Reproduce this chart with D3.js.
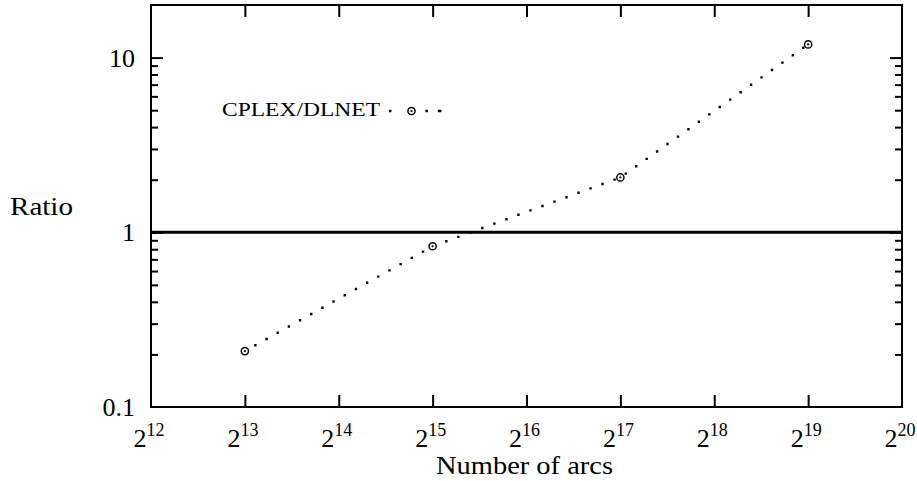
<!DOCTYPE html>
<html>
<head>
<meta charset="utf-8">
<script src="https://cdn.jsdelivr.net/npm/d3@7"></script>
<style>
  body { margin: 0; background: #fff; }
  text { font-family: "Liberation Serif", "Times New Roman", serif; fill: #000; }
</style>
</head>
<body>
<script>
// data
var exponents = [13, 15, 17, 19];
var ratios = [0.209, 0.832, 2.06, 11.9];
var xTickExps = [12, 13, 14, 15, 16, 17, 18, 19, 20];
var yTickValues = [0.1, 1, 10];
var yTickLabels = ["0.1", "1", "10"];
var seriesName = "CPLEX/DLNET";

var svgWidth = 917;
var svgHeight = 481;

var margin = { top: 5, right: 15, bottom: 74, left: 151 };
var width = svgWidth - margin.left - margin.right;
var height = svgHeight - margin.top - margin.bottom;

var svg = d3.select("body")
  .append("svg")
  .attr("width", svgWidth)
  .attr("height", svgHeight);

var chartGroup = svg.append("g")
  .attr("transform", `translate(${margin.left}, ${margin.top})`);

// x is log2 of number of arcs, y is log10
var xScale = d3.scaleLog().base(2)
  .domain([Math.pow(2, 12), Math.pow(2, 20)])
  .range([0, width]);

var yScale = d3.scaleLog()
  .domain([0.1, 20])
  .range([height, 0]);

// minor ticks on y
var minorY = [];
[0.1, 1, 10].forEach(function(d) {
  for (var k = 2; k <= 9; k++) {
    var v = d * k;
    if (v < 20) minorY.push(v);
  }
});

// ticks: bottom & top
var xMajor = xTickExps.slice(1, -1).map(e => Math.pow(2, e));
chartGroup.append("g")
  .attr("transform", `translate(0, ${height})`)
  .call(d3.axisBottom(xScale).tickValues(xMajor).tickSize(-12).tickFormat(""))
  .call(g => g.select(".domain").remove());
chartGroup.append("g")
  .call(d3.axisTop(xScale).tickValues(xMajor).tickSize(-12).tickFormat(""))
  .call(g => g.select(".domain").remove());

// ticks: left & right
chartGroup.append("g")
  .call(d3.axisLeft(yScale).tickValues(yTickValues.slice(1)).tickSize(-12).tickFormat(""))
  .call(g => g.select(".domain").remove());
chartGroup.append("g")
  .call(d3.axisLeft(yScale).tickValues(minorY).tickSize(-7).tickFormat(""))
  .call(g => g.select(".domain").remove());
chartGroup.append("g")
  .attr("transform", `translate(${width}, 0)`)
  .call(d3.axisRight(yScale).tickValues(yTickValues.slice(1)).tickSize(-12).tickFormat(""))
  .call(g => g.select(".domain").remove());
chartGroup.append("g")
  .attr("transform", `translate(${width}, 0)`)
  .call(d3.axisRight(yScale).tickValues(minorY).tickSize(-7).tickFormat(""))
  .call(g => g.select(".domain").remove());

chartGroup.selectAll(".tick line")
  .attr("stroke", "#000")
  .attr("stroke-width", 2);

// y = 1 line
chartGroup.append("line")
  .attr("x1", 0)
  .attr("x2", width)
  .attr("y1", yScale(1))
  .attr("y2", yScale(1))
  .attr("stroke", "#000")
  .attr("stroke-width", 3);

// frame
chartGroup.append("rect")
  .attr("width", width)
  .attr("height", height)
  .attr("fill", "none")
  .attr("stroke", "#000")
  .attr("stroke-width", 2);

// y tick labels
chartGroup.selectAll(".ylab")
  .data(yTickValues)
  .enter()
  .append("text")
  .attr("x", -16)
  .attr("y", d => yScale(d) + 9)
  .attr("text-anchor", "end")
  .style("font-size", "26px")
  .text((d, i) => yTickLabels[i]);

// x tick labels as powers of two
var xl = chartGroup.selectAll(".xlab")
  .data(xTickExps)
  .enter()
  .append("text")
  .attr("x", d => xScale(Math.pow(2, d)) - 2)
  .attr("y", height + 40)
  .attr("text-anchor", "middle")
  .style("font-size", "26px");
xl.append("tspan").text("2");
xl.append("tspan")
  .attr("dy", -11)
  .style("font-size", "18px")
  .text(d => d);

// data line, dotted (small square dots)
var line = d3.line()
  .x((d, i) => xScale(Math.pow(2, exponents[i])))
  .y(d => yScale(d));

chartGroup.append("path")
  .datum(ratios)
  .attr("d", line)
  .attr("fill", "none")
  .attr("stroke", "#000")
  .attr("stroke-width", 2.4)
  .attr("stroke-linecap", "square")
  .attr("stroke-dasharray", "0,12.8")
  .attr("stroke-dashoffset", -12);

// markers
function marker(sel) {
  sel.append("circle")
    .attr("r", 3.6)
    .attr("fill", "#fff")
    .attr("stroke", "#000")
    .attr("stroke-width", 1.5);
  sel.append("circle")
    .attr("r", 1.1)
    .attr("fill", "#000");
}

chartGroup.selectAll(".pt")
  .data(ratios)
  .enter()
  .append("g")
  .attr("transform", (d, i) => `translate(${xScale(Math.pow(2, exponents[i]))}, ${yScale(d)})`)
  .call(marker);

// legend
var legend = svg.append("g");
legend.append("text")
  .attr("x", 222)
  .attr("y", 116)
  .attr("textLength", 158)
  .attr("lengthAdjust", "spacingAndGlyphs")
  .style("font-size", "19px")
  .text(seriesName);
legend.append("line")
  .attr("x1", 389)
  .attr("x2", 442)
  .attr("y1", 111)
  .attr("y2", 111)
  .attr("stroke", "#000")
  .attr("stroke-width", 2.4)
  .attr("stroke-dasharray", "2.4,34,2.4,10,3.6");
legend.append("g")
  .attr("transform", "translate(411.5, 111)")
  .call(marker);

// axis titles
svg.append("text")
  .attr("x", 436)
  .attr("y", 474)
  .attr("textLength", 177)
  .attr("lengthAdjust", "spacingAndGlyphs")
  .style("font-size", "25px")
  .text("Number of arcs");

svg.append("text")
  .attr("x", 10)
  .attr("y", 215)
  .attr("textLength", 63)
  .attr("lengthAdjust", "spacingAndGlyphs")
  .style("font-size", "26px")
  .text("Ratio");
</script>
</body>
</html>
